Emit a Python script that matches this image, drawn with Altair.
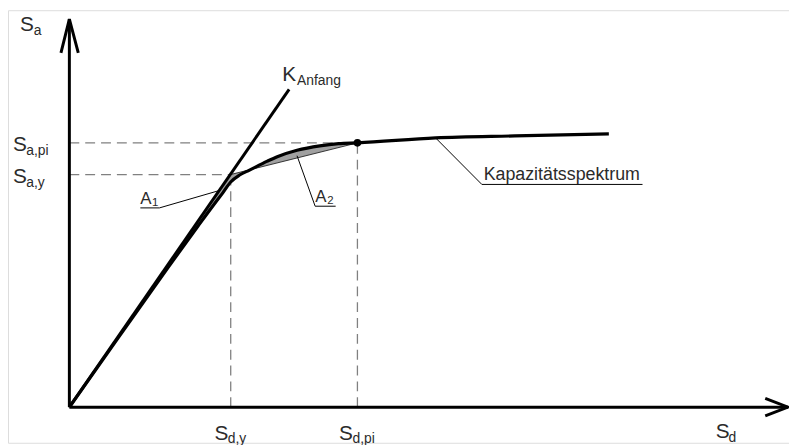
import altair as alt
import pandas as pd

# ---- values (Sd, Sa in arbitrary units) ----
# capacity spectrum curve
cap_sd = [0, 5, 10, 13, 14.7, 15.5, 16.3, 17.2, 18.2, 20, 21, 23, 25.3, 27.2, 29.1, 37, 45, 54.5]
cap_sa = [0, 7.1, 14.15, 18.3, 20.6, 21.65, 22.75, 23.45, 23.95, 24.85, 25.3, 25.95, 26.4, 26.62, 26.7, 27.2, 27.4, 27.6]
# bilinear idealisation read at the same Sd values (up to Sd,pi)
bil_sa = [0, 7.23, 14.47, 18.8, 21.27, 22.42, 23.5, 23.73, 23.98, 24.43, 24.68, 25.18, 25.75, 26.23, 26.7]
# initial stiffness line K_Anfang
k_sd = [0, 22.2]
k_sa = [0, 32.1]
# characteristic points
sd_y, sa_y = 16.3, 23.5
sd_pi, sa_pi = 29.1, 26.7
# axis arrow tips
sd_tip, sa_tip = 72.6, 39.2

X_DOM = [-6.2, 72.7]
Y_DOM = [-3.6, 40.1]
FONT = "Liberation Sans"
TXT = "#2b2b2b"


def xs(f="x"):
    return alt.X(f"{f}:Q", scale=alt.Scale(domain=X_DOM, nice=False, zero=False), axis=None)


def ys(f="y"):
    return alt.Y(f"{f}:Q", scale=alt.Scale(domain=Y_DOM, nice=False, zero=False), axis=None)


def segs(rows):
    return pd.DataFrame(rows, columns=["x", "y", "x2", "y2"])


def rule(rows, **kw):
    return alt.Chart(segs(rows)).mark_rule(**kw).encode(
        x=xs(), y=ys(), x2="x2:Q", y2="y2:Q"
    )


n = len(bil_sa)
area_df = pd.DataFrame({"x": cap_sd[:n], "y": cap_sa[:n], "y2": bil_sa})
area = alt.Chart(area_df).mark_area(color="#a0a0a0", interpolate="monotone").encode(
    x=xs(), y=ys(), y2="y2:Q"
)

dashed = rule(
    [
        (0, sa_pi, sd_pi, sa_pi),
        (0, sa_y, sd_y, sa_y),
        (sd_y, 0, sd_y, sa_y),
        (sd_pi, 0, sd_pi, sa_pi),
    ],
    color="#808080",
    strokeWidth=1.3,
    strokeDash=[10, 6],
)

bilin = rule([(sd_y, sa_y, sd_pi, sa_pi)], color="#333333", strokeWidth=1)
kline = rule([(k_sd[0], k_sa[0], k_sd[1], k_sa[1])], color="black", strokeWidth=3)

curve_df = pd.DataFrame({"x": cap_sd, "y": cap_sa})
curve = alt.Chart(curve_df).mark_line(
    color="black", strokeWidth=3.2, interpolate="monotone"
).encode(x=xs(), y=ys())

pt = alt.Chart(pd.DataFrame({"x": [sd_pi], "y": [sa_pi]})).mark_point(
    filled=True, color="black", size=60, opacity=1
).encode(x=xs(), y=ys())

axes = rule([(0, 0, 0, sa_tip), (0, 0, sd_tip, 0)], color="black", strokeWidth=3)

arrow_df = pd.DataFrame(
    {
        "x": [-0.85, 0, 0.9, 70.3, sd_tip, 70.3],
        "y": [35.8, sa_tip, 35.8, 0.88, 0, -0.88],
        "g": ["a", "a", "a", "b", "b", "b"],
        "o": [0, 1, 2, 0, 1, 2],
    }
)
arrows = alt.Chart(arrow_df).mark_line(
    color="black", strokeWidth=3, strokeJoin="miter", strokeCap="butt"
).encode(x=xs(), y=ys(), detail="g:N", order="o:Q")

leaders = rule(
    [
        (7.17, 20.13, 9.1, 20.13),
        (9.1, 20.13, 15.2, 21.9),
        (24.83, 20.3, 26.9, 20.3),
        (24.83, 20.3, 23.0, 25.4),
        (41.67, 22.5, 57.9, 22.5),
        (41.67, 22.5, 37.0, 27.2),
    ],
    color="black",
    strokeWidth=1,
)

# main labels
main_txt = ["S", "S", "S", "S", "S", "S", "K"]
main_x = [-5.0, -5.7, -5.7, 14.65, 27.25, 65.3, 21.5]
main_y = [38.0, 25.85, 22.67, -3.27, -3.27, -3.1, 32.9]
sub_txt = ["a", "a,pi", "a,y", "d,y", "d,pi", "d", "Anfang"]
sub_x = [-3.6, -4.35, -4.35, 16.0, 28.6, 66.6, 23.0]
sub_y = [37.6, 25.45, 22.27, -3.67, -3.67, -3.5, 32.5]

small_txt = ["A", "A"]
small_x = [7.17, 24.83]
small_y = [20.57, 20.73]
tiny_txt = ["1", "2"]
tiny_x = [8.35, 26.05]
tiny_y = [20.35, 20.5]
long_txt = ["Kapazitätsspektrum"]
long_x = [41.85]
long_y = [22.95]


def texts(t, x, y, size):
    df = pd.DataFrame({"t": t, "x": x, "y": y})
    return alt.Chart(df).mark_text(
        align="left", baseline="alphabetic", font=FONT, fontSize=size, color=TXT
    ).encode(x=xs(), y=ys(), text="t:N")


labels = (
    texts(main_txt, main_x, main_y, 21)
    + texts(sub_txt, sub_x, sub_y, 14)
    + texts(small_txt, small_x, small_y, 17)
    + texts(tiny_txt, tiny_x, tiny_y, 11.5)
    + texts(long_txt, long_x, long_y, 18)
)

chart = (
    alt.layer(dashed, area, bilin, kline, curve, pt, axes, arrows, leaders, labels)
    .properties(width=789, height=437, padding=0, autosize=alt.AutoSizeParams(type="none"))
    .configure_view(stroke="transparent", strokeWidth=0, fill="white")
    .configure(background="white")
)

chart.save("out.html", embed_options={"renderer": "svg", "actions": False})
